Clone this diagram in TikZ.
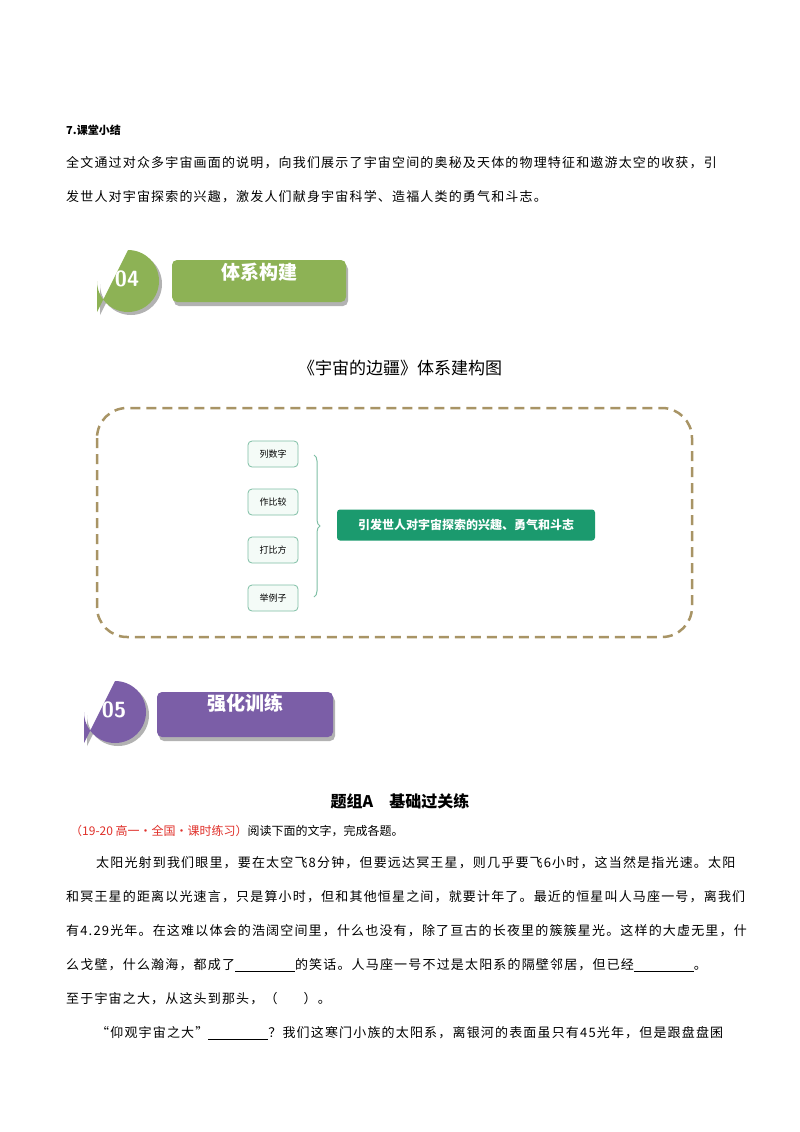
\documentclass[tikz,border=0pt]{standalone}
\usepackage{fontspec}
\setmainfont{Noto Sans CJK SC}
\newfontfamily\cjk{Noto Sans CJK SC}
\newfontfamily\cjks[LetterSpace=9]{Noto Sans CJK SC}
\usetikzlibrary{decorations.pathreplacing,shadows}
\definecolor{gbar}{HTML}{8DB255}
\definecolor{pbar}{HTML}{7B5EA7}
\definecolor{dbox}{HTML}{A89465}
\definecolor{tealc}{HTML}{1B9A6E}
\definecolor{lbord}{HTML}{7FBFA5}
\definecolor{lfill}{HTML}{F4FBF7}
\definecolor{redc}{HTML}{E0302A}
\tikzset{
  body/.style={anchor=west,inner sep=0pt,font=\cjks\fontsize{13}{15}\selectfont},
  leaf/.style={draw=lbord,fill=lfill,rounded corners=4pt,minimum width=50pt,minimum height=26pt,font=\cjk\fontsize{9}{10}\selectfont,line width=0.8pt},
  barshape/.style={rounded corners=5pt},
  bartext/.style={text=white,font=\cjk\bfseries\fontsize{19}{20}\selectfont},
}
\newcommand{\blank}[1]{\underline{\hspace{#1}}}
\begin{document}
\begin{tikzpicture}[x=1pt,y=-1pt]
\useasboundingbox (0,0) rectangle (800,1132);
\fill[white] (0,0) rectangle (800,1132);
% section 7
\node[anchor=west,inner sep=0pt,font=\cjk\bfseries\fontsize{11}{12}\selectfont] (s7) at (66,130) {7.课堂小结};
\node[body] (p1) at (66,163) {全文通过对众多宇宙画面的说明，向我们展示了宇宙空间的奥秘及天体的物理特征和遨游太空的收获，引};
\node[body] (p2) at (66,197) {发世人对宇宙探索的兴趣，激发人们献身宇宙科学、造福人类的勇气和斗志。};
% badge 04
\fill[gray!60] (100,315) -- (100,284) arc[start angle=180,end angle=-90,radius=31] -- cycle;
\fill[gbar] (97,312) -- (97,281) arc[start angle=180,end angle=-90,radius=31] -- cycle;
\node[text=white,font=\sffamily\bfseries\fontsize{22}{22}\selectfont] (n04) at (127,279) {04};
\fill[gray!60,barshape] (174,264) rectangle (348,306);
\fill[gbar,barshape] (172,260) rectangle (346,302);
\node[bartext] (t04) at (259,272) {体系构建};
% title
\node[font=\cjk\fontsize{17}{18}\selectfont] (title) at (400,368) {《宇宙的边疆》体系建构图};
% dashed frame
\draw[dbox,line width=2.5pt,dash pattern=on 10pt off 6pt,rounded corners=30pt] (97,408) rectangle (692,637);
\node[leaf] (l1) at (273,454) {列数字};
\node[leaf] (l2) at (273,502) {作比较};
\node[leaf] (l3) at (273,550) {打比方};
\node[leaf] (l4) at (273,598) {举例子};
\coordinate (bt) at (314,455);
\coordinate (bb) at (314,597);
\draw[lbord,line width=1pt,decorate,decoration={brace,amplitude=6pt}] (bt) -- (bb);
\node[fill=tealc,text=white,rounded corners=3pt,minimum width=258pt,minimum height=31pt,font=\cjk\bfseries\fontsize{12}{13}\selectfont] (main) at (466,525) {引发世人对宇宙探索的兴趣、勇气和斗志};
% badge 05
\fill[gray!60] (87,746) -- (87,715) arc[start angle=180,end angle=-90,radius=31] -- cycle;
\fill[pbar] (84,743) -- (84,712) arc[start angle=180,end angle=-90,radius=31] -- cycle;
\node[text=white,font=\sffamily\bfseries\fontsize{22}{22}\selectfont] (n05) at (114,710) {05};
\fill[gray!60,barshape] (159,696) rectangle (335,741);
\fill[pbar,barshape] (157,692) rectangle (333,737);
\node[bartext] (t05) at (245,703) {强化训练};
% exercise
\node[font=\cjk\bfseries\fontsize{16}{17}\selectfont] (grp) at (400,801) {题组A\hspace{1em}基础过关练};
\node[anchor=west,inner sep=0pt,font=\cjk\fontsize{12}{14}\selectfont] (src) at (70,831) {\textcolor{redc}{（19-20 高一·全国·课时练习）}阅读下面的文字，完成各题。};
\node[body] (q1) at (96,863) {太阳光射到我们眼里，要在太空飞8分钟，但要远达冥王星，则几乎要飞6小时，这当然是指光速。太阳};
\node[body] (q2) at (66,897) {和冥王星的距离以光速言，只是算小时，但和其他恒星之间，就要计年了。最近的恒星叫人马座一号，离我们};
\node[body] (q3) at (66,931) {有4.29光年。在这难以体会的浩阔空间里，什么也没有，除了亘古的长夜里的簇簇星光。这样的大虚无里，什};
\node[body] (q4) at (66,965) {么戈壁，什么瀚海，都成了\blank{60pt}的笑话。人马座一号不过是太阳系的隔壁邻居，但已经\blank{60pt}。};
\node[body] (q5) at (66,999) {至于宇宙之大，从这头到那头，（\hspace{2em}）。};
\node[body] (q6) at (96,1033) {“仰观宇宙之大”\blank{60pt}？我们这寒门小族的太阳系，离银河的表面虽只有45光年，但是跟盘盘囷};
\end{tikzpicture}
\end{document}
